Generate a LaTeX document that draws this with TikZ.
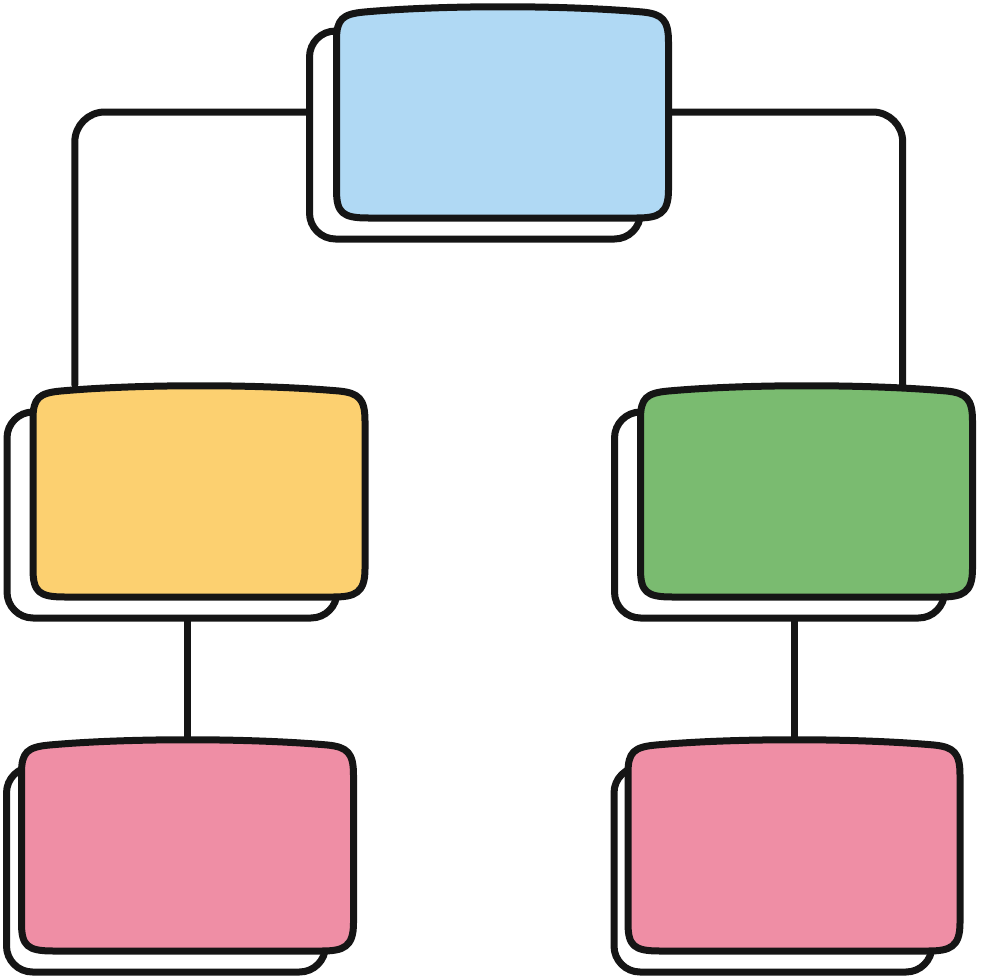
\documentclass[tikz,border=0pt]{standalone}
\usetikzlibrary{calc}
\definecolor{cblue}{HTML}{B0D9F4}
\definecolor{cyellow}{HTML}{FCD070}
\definecolor{cgreen}{HTML}{7ABB70}
\definecolor{cpink}{HTML}{EF8EA5}
\definecolor{ink}{HTML}{151515}
\tikzset{
  slot/.style={minimum width=332pt, minimum height=212pt, inner sep=0pt, draw=none},
  ln/.style={draw=ink, line width=7pt, line join=round, line cap=round},
  conn/.style={ln, rounded corners=30pt},
}
\newcommand\drawcard[4]{%
  \begin{scope}[shift={(#1.center)}]
    \draw[ln, fill=white, rounded corners=26pt] (-166+#3,-106+#4) rectangle (138,127);
    \draw[ln, fill=#2] (-166,78) -- (-166,-72)
      .. controls (-166,-93) and (-160,-98) .. (-138,-100)
      .. controls (-60,-107) and (60,-107) .. (140,-100)
      .. controls (160,-98) and (166,-92) .. (166,-70)
      -- (166,78) .. controls (166,102) and (156,106) .. (134,106)
      -- (-134,106) .. controls (-160,106) and (-166,101) .. (-166,78) -- cycle;
  \end{scope}}
\begin{document}
\begin{tikzpicture}[x=1pt,y=-1pt]
\useasboundingbox (0,0) rectangle (980,980);
\node[slot] (blue) at (502.5,112) {};
\node[slot] (yellow) at (199,491) {};
\node[slot] (green) at (806.5,491) {};
\node[slot] (pinkL) at (187.5,845) {};
\node[slot] (pinkR) at (794,845) {};
% connectors
\draw[conn] (blue.west) -| ($(yellow.north west)+(42,0)$);
\draw[conn] (blue.east) -| ($(green.north east)+(-70,0)$);
\draw[ln] (yellow.south -| pinkL.north) -- (pinkL.north);
\draw[ln] (green.south -| pinkR.north) -- (pinkR.north);
% cards
\drawcard{blue}{cblue}{-27}{25}
\drawcard{yellow}{cyellow}{-26}{27}
\drawcard{green}{cgreen}{-26}{27}
\drawcard{pinkL}{cpink}{-15}{28}
\drawcard{pinkR}{cpink}{-14}{28}
\end{tikzpicture}
\end{document}
